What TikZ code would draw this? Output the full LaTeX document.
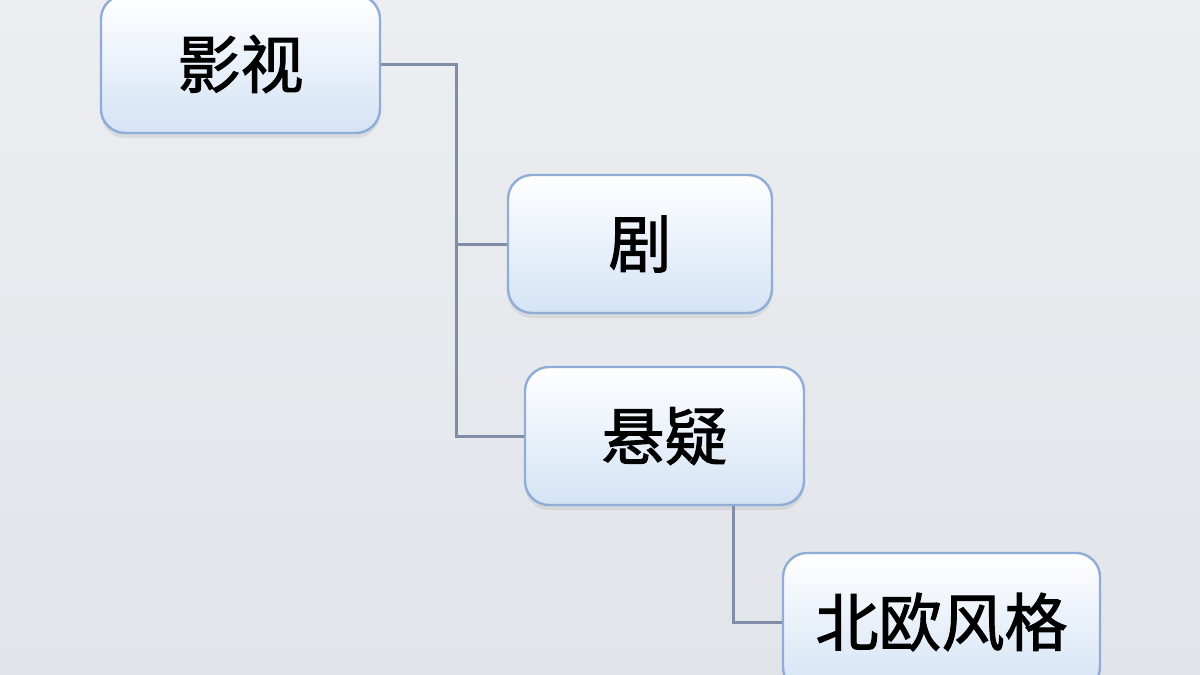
\documentclass[tikz,border=0pt]{standalone}
\usepackage{fontspec}
\setmainfont{Noto Sans CJK SC}
\newfontfamily\tagfont{Noto Sans CJK SC}[FakeBold=1.6]
\usetikzlibrary{shadows}
\definecolor{bgtop}{HTML}{ECEEF1}
\definecolor{bgbot}{HTML}{E1E4E9}
\definecolor{boxline}{HTML}{8FADD6}
\definecolor{boxbot}{HTML}{D4E3F5}
\definecolor{linkcol}{HTML}{7F8EA6}
\tikzset{
  tag/.style={draw=boxline, line width=2.4pt, rounded corners=24pt,
    top color=white, bottom color=boxbot, minimum height=138pt,
    font=\tagfont\fontsize{63pt}{70pt}\selectfont,
    drop shadow={shadow xshift=0pt, shadow yshift=-5pt, opacity=0.12, fill=black!60}},
  link/.style={draw=linkcol, line width=3pt}
}
\begin{document}
\begin{tikzpicture}[x=1pt, y=-1pt]
            \shade[top color=bgtop, bottom color=bgbot] (0,0) rectangle (1200,675);
            \useasboundingbox (0,0) rectangle (1200,675);

            \node[tag, minimum width=279pt] (yingshi) at (240.5,64) {影视};
            \node[tag, minimum width=264pt] (ju) at (640,244) {剧};
            \node[tag, minimum width=279pt] (xuanyi) at (664.5,436) {悬疑};
            \node[tag, minimum width=317pt] (beiou) at (941.5,622) {北欧风格};

            \coordinate (trunk) at (456,244);
            \draw[link] (yingshi.east) -| (trunk) |- (xuanyi.west);
            \draw[link] (trunk) to (ju.west);
            \draw[link] (xuanyi.south -| 733,0) |- (beiou.west);
        \end{tikzpicture}
\end{document}
